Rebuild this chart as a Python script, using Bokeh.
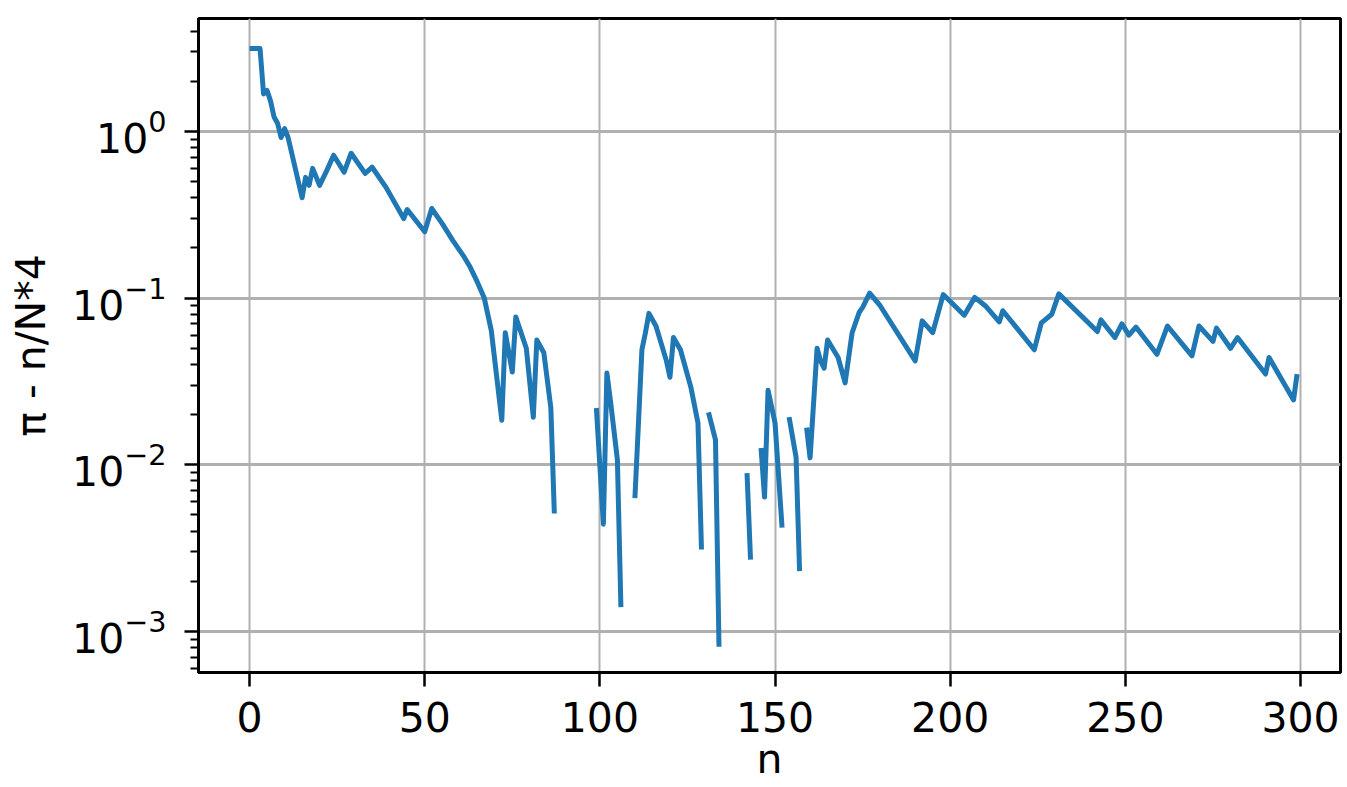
import math
from bokeh.plotting import figure
from bokeh.models import Range1d, FixedTicker, ColumnDataSource
from bokeh.embed import file_html
from bokeh.resources import INLINE

NaN = float("nan")

# sample index n (vertices)
n = [0, 3, 4, 5, 6, 7, 8, 9, 10, 11, 15, 16, 17, 18, 20, 22, 24, 27, 29, 33, 35,
     39, 44, 45, 50, 52, 55, 58, 61, 63, 65, 67, 69, 72, 73, 75, 76, 79, 81, 82, 84, 86, 87,
     93,
     99, 101, 102, 103, 105, 106,
     108,
     110, 112, 113, 114, 116, 119, 120, 121, 123, 126, 128, 129,
     130,
     131, 133, 134,
     138,
     142, 143,
     145,
     146, 147, 148, 150, 152,
     153,
     154, 156, 157,
     158,
     159, 160, 162, 163, 164, 165, 168, 170, 172, 174, 175, 177, 180, 190, 192,
     195, 198, 204, 207, 210, 214, 215, 224, 226, 229, 231, 242, 243, 247, 249,
     251, 253, 259, 262, 269, 271, 275, 276, 280, 282, 290, 291, 298, 299]

# pi - n/N*4 (NaN where the value is not positive -> gap on the log axis)
err = [3.14, 3.14, 1.68, 1.76, 1.52, 1.22, 1.12, 0.92, 1.04, 0.92, 0.40, 0.53, 0.475, 0.60, 0.475, 0.58, 0.72, 0.57, 0.74, 0.56, 0.61,
       0.46, 0.30, 0.34, 0.25, 0.345, 0.28, 0.222, 0.18, 0.153, 0.125, 0.10, 0.064, 0.0185, 0.062, 0.036, 0.077, 0.05, 0.0193, 0.056, 0.047, 0.022, 0.0051,
       NaN,
       0.0219, 0.0044, 0.0355, 0.0244, 0.0107, 0.0014,
       NaN,
       0.0063, 0.049, 0.062, 0.081, 0.068, 0.042, 0.0335, 0.058, 0.049, 0.029, 0.0178, 0.0031,
       NaN,
       0.0206, 0.0141, 0.00081,
       NaN,
       0.0089, 0.0027,
       NaN,
       0.0126, 0.0064, 0.028, 0.0178, 0.0042,
       NaN,
       0.0193, 0.0111, 0.0023,
       NaN,
       0.0167, 0.011, 0.050, 0.042, 0.038, 0.056, 0.044, 0.031, 0.062, 0.082, 0.088, 0.107, 0.090, 0.042, 0.073,
       0.062, 0.105, 0.079, 0.101, 0.090, 0.072, 0.084, 0.049, 0.071, 0.080, 0.106, 0.063, 0.074, 0.058, 0.070,
       0.060, 0.067, 0.046, 0.068, 0.045, 0.068, 0.055, 0.066, 0.050, 0.058, 0.035, 0.044, 0.0245, 0.035]

x_ticks = [0, 50, 100, 150, 200, 250, 300]
y_ticks = [0.001, 0.01, 0.1, 1]
y_tick_labels = {"0.001": "10\u207b\u00b3", "0.01": "10\u207b\u00b2", "0.1": "10\u207b\u00b9", "1": "10\u2070"}
y_minor = [k * 10.0 ** e for e in range(-4, 1) for k in range(2, 10)]

FONT = "DejaVu Sans"

p = figure(width=1345, height=787, y_axis_type="log",
           x_range=Range1d(-14.57, 311.4), y_range=Range1d(5.67e-4, 4.76),
           output_backend="svg", toolbar_location=None,
           min_border_left=198, min_border_right=5, min_border_top=18, min_border_bottom=115)

src = ColumnDataSource(dict(n=n, err=err))
p.line("n", "err", source=src, line_color="#1f77b4", line_width=5, line_join="round")

p.xaxis.ticker = FixedTicker(ticks=x_ticks)
p.yaxis.ticker = FixedTicker(ticks=y_ticks, minor_ticks=y_minor)
p.yaxis.major_label_overrides = y_tick_labels

p.xaxis.axis_label = "n"
p.yaxis.axis_label = "\u03c0 - n/N*4"

for ax in (p.xaxis, p.yaxis):
    ax.major_label_text_font = FONT
    ax.major_label_text_font_size = "41px"
    ax.major_label_text_color = "black"
    ax.axis_label_text_font = FONT
    ax.axis_label_text_font_size = "41px"
    ax.axis_label_text_font_style = "normal"
    ax.axis_label_text_color = "black"
    ax.axis_line_color = "black"
    ax.axis_line_width = 3
    ax.major_tick_line_color = "black"
    ax.major_tick_line_width = 2.5
    ax.major_tick_in = 0
    ax.major_tick_out = 14
    ax.minor_tick_line_color = "black"
    ax.minor_tick_line_width = 2
    ax.minor_tick_in = 0
    ax.minor_tick_out = 8

p.xaxis.major_label_text_line_height = 1.0
p.xaxis.axis_label_text_line_height = 1.0
p.xaxis.major_label_standoff = 15
p.xaxis.axis_label_standoff = 0
p.yaxis.major_label_standoff = 18
p.yaxis.axis_label_standoff = 14

p.xgrid.grid_line_color = "#b0b0b0"
p.xgrid.grid_line_width = 2
p.ygrid.grid_line_color = "#b0b0b0"
p.ygrid.grid_line_width = 3

p.outline_line_color = "black"
p.outline_line_width = 3
p.outline_line_alpha = 1
p.background_fill_color = "white"
p.border_fill_color = "white"

open("out.html", "w").write(file_html(p, INLINE))
